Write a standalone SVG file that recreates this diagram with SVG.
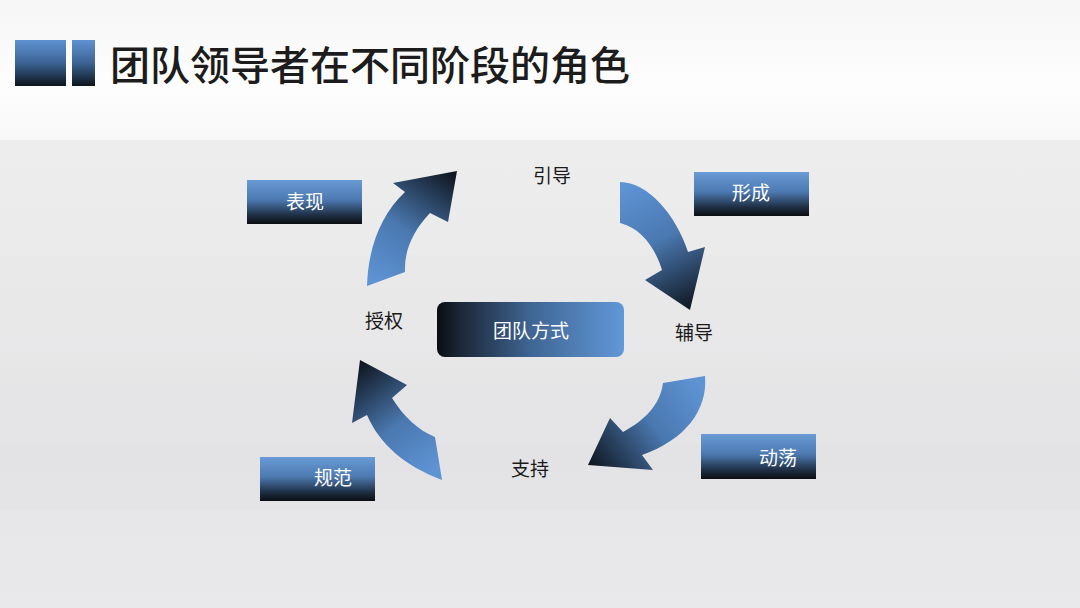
<svg xmlns="http://www.w3.org/2000/svg" width="1080" height="608" viewBox="0 0 1080 608">
<defs>
<linearGradient id="bgTop" x1="0" y1="0" x2="0" y2="1">
<stop offset="0" stop-color="#f6f6f6"/>
<stop offset="0.6" stop-color="#fdfdfd"/>
<stop offset="1" stop-color="#f8f8f8"/>
</linearGradient>
<linearGradient id="bgLow" x1="0" y1="0" x2="0" y2="1">
<stop offset="0" stop-color="#ededed"/>
<stop offset="0.3" stop-color="#eaeaea"/>
<stop offset="0.6" stop-color="#e4e4e6"/>
<stop offset="1" stop-color="#e9e9eb"/>
</linearGradient>
<linearGradient id="boxG" x1="0" y1="0" x2="0" y2="1">
<stop offset="0" stop-color="#6a9bd6"/>
<stop offset="0.45" stop-color="#4c79b0"/>
<stop offset="0.8" stop-color="#1f2f44"/>
<stop offset="1" stop-color="#0b0e12"/>
</linearGradient>
<linearGradient id="sqG" x1="0" y1="0" x2="0" y2="1">
<stop offset="0" stop-color="#5f92d2"/>
<stop offset="0.5" stop-color="#3c6494"/>
<stop offset="1" stop-color="#0d141c"/>
</linearGradient>
<linearGradient id="cenG" x1="0" y1="0" x2="1" y2="0">
<stop offset="0" stop-color="#0a0d11"/>
<stop offset="0.12" stop-color="#1b2636"/>
<stop offset="0.5" stop-color="#3f6593"/>
<stop offset="1" stop-color="#6198d8"/>
</linearGradient>
<linearGradient id="a1" gradientUnits="userSpaceOnUse" x1="380" y1="285" x2="455" y2="175">
<stop offset="0" stop-color="#5e93d4"/><stop offset="0.45" stop-color="#4a78b0"/><stop offset="1" stop-color="#0f1620"/>
</linearGradient>
<linearGradient id="a2" gradientUnits="userSpaceOnUse" x1="630" y1="185" x2="690" y2="310">
<stop offset="0" stop-color="#5e93d4"/><stop offset="0.45" stop-color="#4a78b0"/><stop offset="1" stop-color="#0f1620"/>
</linearGradient>
<linearGradient id="a3" gradientUnits="userSpaceOnUse" x1="700" y1="385" x2="590" y2="465">
<stop offset="0" stop-color="#5e93d4"/><stop offset="0.45" stop-color="#4a78b0"/><stop offset="1" stop-color="#0f1620"/>
</linearGradient>
<linearGradient id="a4" gradientUnits="userSpaceOnUse" x1="440" y1="465" x2="362" y2="362">
<stop offset="0" stop-color="#5e93d4"/><stop offset="0.45" stop-color="#4a78b0"/><stop offset="1" stop-color="#0f1620"/>
</linearGradient>
</defs>
<style>
.title{font-family:"Noto Sans CJK SC","Noto Sans",sans-serif;font-size:40px;font-weight:500;fill:#1c1c1c}
.lbl{font-family:"Noto Sans CJK SC","Noto Sans",sans-serif;font-size:19px;fill:#1a1a1a;text-anchor:middle}
.wt{font-family:"Noto Sans CJK SC","Noto Sans",sans-serif;font-size:19px;fill:#ffffff;text-anchor:middle}
.box{fill:url(#boxG)}
</style>
<rect x="0" y="0" width="1080" height="140" fill="url(#bgTop)"/>
<rect x="0" y="140" width="1080" height="468" fill="url(#bgLow)"/>
<rect x="0" y="255" width="1080" height="100" fill="#e8e8e9" opacity="0.5"/>
<rect x="0" y="445" width="1080" height="65" fill="#e2e2e4" opacity="0.5"/>
<g id="title">
<rect x="15" y="40" width="51" height="46" fill="url(#sqG)"/>
<rect x="72" y="40" width="23" height="46" fill="url(#sqG)"/>
<text class="title" x="110" y="80">团队领导者在不同阶段的角色</text>
</g>
<g id="connectors">
<path d="M367,286 C368,250 380,215 405,192 L393,183 L457,171 L448,222 L430,213 C412,232 404,252 405,272 Z" fill="url(#a1)"/>
<path d="M620,182 C648,182 676,215 688,252 L705,247 L690,310 L645,280 L662,270 C656,250 642,228 620,223 Z" fill="url(#a2)"/>
<path d="M705,376 C708,410 685,440 642,455 L653,470 L588,465 L610,418 L623,432 C645,420 660,405 663,383 Z" fill="url(#a3)"/>
<path d="M442,480 C405,466 380,445 367,415 L352,423 L360,360 L407,385 L392,398 C404,417 418,430 435,437 Z" fill="url(#a4)"/>
</g>
<g id="node-biaoxian">
<rect class="box" x="247" y="180" width="115" height="44"/>
<text class="wt" x="305" y="209">表现</text>
</g>
<g id="node-xingcheng">
<rect class="box" x="694" y="172" width="115" height="44"/>
<text class="wt" x="751" y="200">形成</text>
</g>
<g id="node-dongdang">
<rect class="box" x="701" y="434" width="115" height="45"/>
<text class="wt" x="778" y="465">动荡</text>
</g>
<g id="node-guifan">
<rect class="box" x="260" y="457" width="115" height="44"/>
<text class="wt" x="333" y="485">规范</text>
</g>
<g id="node-center">
<rect x="437" y="302" width="187" height="55" rx="8" fill="url(#cenG)"/>
<text class="wt" x="531" y="338">团队方式</text>
</g>
<g id="label-yindao"><text class="lbl" x="552" y="183">引导</text></g>
<g id="label-fudao"><text class="lbl" x="694" y="340">辅导</text></g>
<g id="label-zhichi"><text class="lbl" x="530" y="476">支持</text></g>
<g id="label-shouquan"><text class="lbl" x="384" y="328">授权</text></g>
</svg>
